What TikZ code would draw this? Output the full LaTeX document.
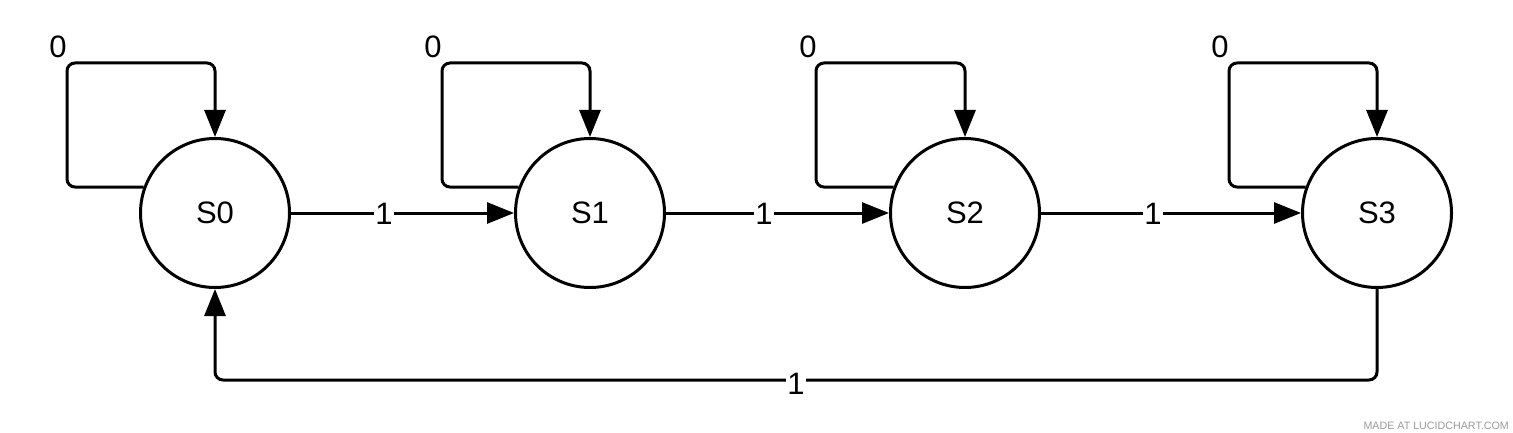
\documentclass[tikz,border=0pt]{standalone}
\usepackage{fontspec}
\setmainfont{Liberation Sans}
\usetikzlibrary{arrows.meta}
\definecolor{wm}{HTML}{9A9A9A}
\begin{document}
\begin{tikzpicture}[x=1pt,y=-1pt,
  state/.style={circle,draw,line width=3pt,minimum size=149pt,inner sep=0pt,font=\fontsize{31}{36}\selectfont},
  edge/.style={line width=3pt,-{Triangle[length=27pt,width=21pt]},rounded corners=8pt},
  lbl/.style={font=\fontsize{31}{36}\selectfont,fill=white,inner sep=1pt},
  zlbl/.style={font=\fontsize{31}{36}\selectfont,inner sep=0pt}]
\useasboundingbox (0,0) rectangle (1513,433);
\node[state] (s0) at (215,213) {S0};
\node[state] (s1) at (590,213) {S1};
\node[state] (s2) at (965,213) {S2};
\node[state] (s3) at (1377,213) {S3};
% self loops
\coordinate (l0) at (67,63);
\coordinate (l1) at (442,63);
\coordinate (l2) at (816,63);
\coordinate (l3) at (1229,63);
\draw[edge] (s0.160.5) -| (l0) -| (s0.north);
\draw[edge] (s1.160.5) -| (l1) -| (s1.north);
\draw[edge] (s2.160.5) -| (l2) -| (s2.north);
\draw[edge] (s3.160.5) -| (l3) -| (s3.north);
\node[zlbl] (z0) at (58,47) {0};
\node[zlbl] (z1) at (433,47) {0};
\node[zlbl] (z2) at (808,47) {0};
\node[zlbl] (z3) at (1220,47) {0};
% forward edges
\draw[edge] (s0.east) -- (s1.west);
\draw[edge] (s1.east) -- (s2.west);
\draw[edge] (s2.east) -- (s3.west);
\node[lbl] (e01) at (384,214) {1};
\node[lbl] (e12) at (764,214) {1};
\node[lbl] (e23) at (1153,214) {1};
% return edge
\coordinate (b) at (796,380);
\draw[edge] (s3.south) |- (b) -| (s0.south);
\node[lbl] (e30) at (796,384) {1};
% watermark
\node[anchor=east,text=wm,font=\fontsize{10.7}{12}\selectfont,inner sep=0pt] (wmk) at (1509,426) {MADE AT LUCIDCHART.COM};
\end{tikzpicture}
\end{document}
